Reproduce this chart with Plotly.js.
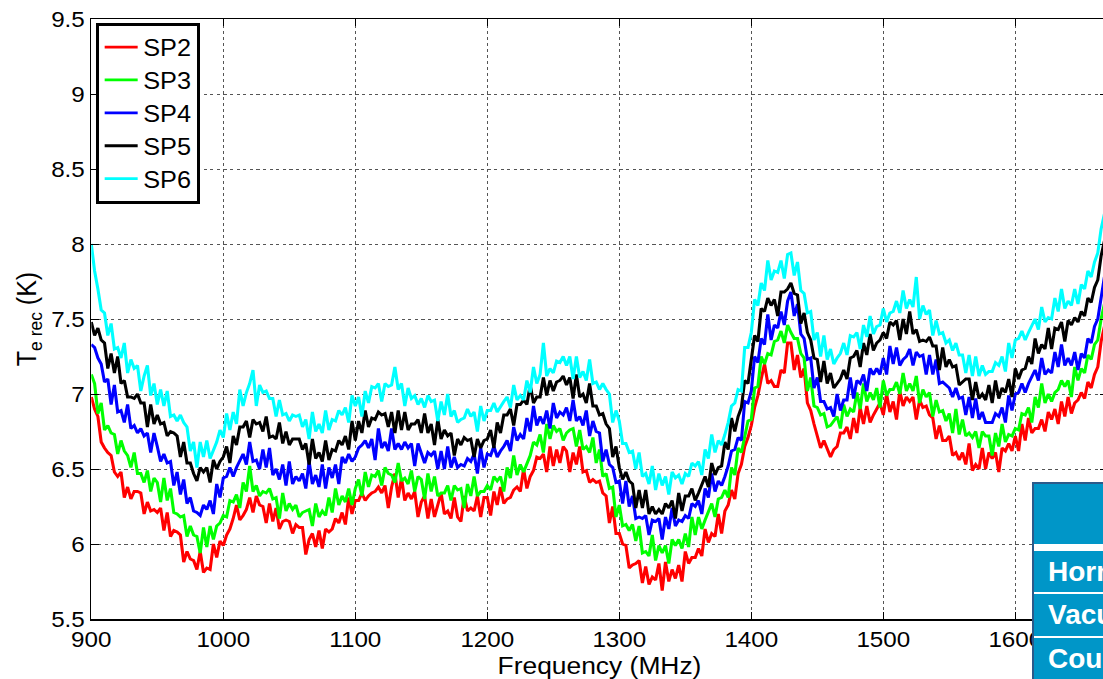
<!DOCTYPE html>
<html>
<head>
<meta charset="utf-8">
<script src="https://cdn.plot.ly/plotly-3.0.1.min.js"></script>
<style>
  html, body { margin: 0; padding: 0; width: 1103px; height: 679px; overflow: hidden; background: #fff; }
  #chart { position: absolute; left: 0; top: 0; transform: scaleX(1.1); transform-origin: 0 0; }
  #spec { position: absolute; left: 1032px; top: 482px; width: 220px; height: 240px;
          background: #0096c8; border-left: 2px solid #2b5a8a; border-top: 2px solid #2b5a8a; }
  #spec .rule { position: absolute; left: 0; width: 100%; background: #fff; }
  #spec .cell { position: absolute; left: 14px; color: #fff; font: bold 28px "Liberation Sans", Arial, sans-serif;
                white-space: nowrap; }
</style>
</head>
<body>
<div id="chart"></div>
<div id="spec">
  <div class="rule" style="top:60px;height:7px"></div>
  <div class="rule" style="top:108px;height:2px"></div>
  <div class="rule" style="top:152px;height:2px"></div>
  <div class="cell" style="top:72px">Horn</div>
  <div class="cell" style="top:115px">Vacuum</div>
  <div class="cell" style="top:159px">Coupler</div>
</div>
<script>
// Receiver equivalent temperature per sub-panel, one sample every 2.5 MHz from 900 MHz
const FREQ_START = 900;
const FREQ_STEP = 2.5;

const sp2 = [
  6.98, 6.90, 6.85, 6.68, 6.64, 6.61, 6.59, 6.48, 6.45, 6.48, 6.31, 6.38, 6.30, 6.35, 6.35, 6.34, 6.20, 6.28, 6.22, 6.23,
  6.21, 6.24, 6.09, 6.21, 6.05, 6.09, 6.08, 6.06, 5.88, 5.95, 5.90, 5.89, 5.83, 5.95, 5.81, 5.84, 5.83, 6.00, 5.91, 6.02,
  5.99, 6.06, 6.10, 6.17, 6.26, 6.16, 6.19, 6.23, 6.31, 6.21, 6.32, 6.26, 6.25, 6.14, 6.27, 6.15, 6.24, 6.10, 6.15, 6.16,
  6.15, 6.07, 6.13, 6.11, 6.11, 5.93, 6.03, 6.07, 5.98, 6.09, 5.97, 6.10, 6.08, 6.10, 6.17, 6.14, 6.21, 6.13, 6.31, 6.20,
  6.29, 6.29, 6.34, 6.29, 6.32, 6.34, 6.35, 6.38, 6.34, 6.39, 6.24, 6.38, 6.47, 6.31, 6.44, 6.29, 6.34, 6.30, 6.35, 6.18,
  6.28, 6.32, 6.17, 6.30, 6.18, 6.26, 6.34, 6.20, 6.22, 6.17, 6.31, 6.18, 6.15, 6.32, 6.22, 6.24, 6.22, 6.32, 6.18, 6.31,
  6.31, 6.19, 6.35, 6.26, 6.38, 6.27, 6.30, 6.31, 6.36, 6.38, 6.35, 6.50, 6.37, 6.45, 6.49, 6.58, 6.57, 6.60, 6.48, 6.65,
  6.52, 6.63, 6.54, 6.65, 6.62, 6.48, 6.61, 6.53, 6.65, 6.48, 6.49, 6.41, 6.43, 6.41, 6.42, 6.34, 6.32, 6.14, 6.25, 6.07,
  6.07, 6.00, 5.99, 5.84, 5.86, 5.87, 5.89, 5.74, 5.85, 5.73, 5.78, 5.76, 5.87, 5.69, 5.88, 5.75, 5.83, 5.77, 5.86, 5.75,
  5.95, 5.87, 5.91, 5.91, 5.97, 5.92, 6.10, 6.01, 6.07, 6.05, 6.20, 6.07, 6.22, 6.26, 6.36, 6.30, 6.47, 6.53, 6.65, 6.71,
  6.79, 6.91, 6.99, 7.10, 7.20, 7.07, 7.09, 7.05, 7.05, 7.16, 7.14, 7.34, 7.34, 7.16, 7.26, 7.11, 7.17, 6.94, 6.89, 6.80,
  6.71, 6.64, 6.69, 6.64, 6.58, 6.63, 6.65, 6.74, 6.74, 6.78, 6.70, 6.84, 6.74, 6.91, 6.80, 6.92, 6.81, 6.86, 6.90, 6.94,
  6.86, 7.00, 6.88, 6.95, 6.83, 7.02, 6.92, 6.98, 6.95, 6.98, 6.83, 6.96, 6.91, 6.92, 6.86, 6.84, 6.70, 6.79, 6.69, 6.69,
  6.72, 6.59, 6.61, 6.56, 6.61, 6.53, 6.67, 6.49, 6.53, 6.50, 6.64, 6.50, 6.61, 6.57, 6.61, 6.48, 6.64, 6.62, 6.67, 6.62,
  6.72, 6.62, 6.80, 6.69, 6.84, 6.74, 6.77, 6.77, 6.83, 6.75, 6.88, 6.83, 6.90, 6.80, 6.95, 6.85, 6.98, 6.87, 6.94, 6.96,
  7.01, 6.97, 7.08, 7.04, 7.13, 7.18, 7.35, 7.45
];

const sp3 = [
  7.13, 7.07, 6.87, 6.94, 6.76, 6.79, 6.74, 6.73, 6.60, 6.69, 6.62, 6.59, 6.51, 6.61, 6.47, 6.47, 6.41, 6.49, 6.35, 6.44,
  6.41, 6.28, 6.44, 6.29, 6.37, 6.21, 6.20, 6.18, 6.19, 6.05, 6.12, 6.06, 6.05, 5.94, 6.11, 5.98, 6.12, 6.03, 6.12, 6.14,
  6.19, 6.18, 6.29, 6.28, 6.33, 6.24, 6.41, 6.35, 6.52, 6.35, 6.39, 6.32, 6.35, 6.34, 6.37, 6.30, 6.31, 6.17, 6.34, 6.22,
  6.27, 6.23, 6.26, 6.18, 6.21, 6.22, 6.23, 6.12, 6.27, 6.18, 6.22, 6.19, 6.31, 6.21, 6.37, 6.26, 6.32, 6.28, 6.37, 6.26,
  6.37, 6.43, 6.32, 6.48, 6.38, 6.46, 6.45, 6.49, 6.39, 6.51, 6.47, 6.46, 6.41, 6.54, 6.42, 6.44, 6.40, 6.49, 6.35, 6.45,
  6.43, 6.30, 6.47, 6.35, 6.45, 6.32, 6.34, 6.34, 6.39, 6.29, 6.39, 6.36, 6.37, 6.24, 6.40, 6.32, 6.45, 6.32, 6.35, 6.35,
  6.39, 6.36, 6.45, 6.42, 6.45, 6.35, 6.51, 6.44, 6.59, 6.46, 6.53, 6.48, 6.54, 6.59, 6.68, 6.66, 6.73, 6.61, 6.80, 6.70,
  6.79, 6.75, 6.77, 6.69, 6.74, 6.76, 6.77, 6.65, 6.76, 6.63, 6.65, 6.61, 6.71, 6.54, 6.63, 6.45, 6.47, 6.37, 6.38, 6.18,
  6.26, 6.12, 6.13, 6.09, 6.13, 6.02, 6.12, 5.94, 5.95, 5.92, 6.06, 5.89, 5.99, 5.94, 5.99, 5.87, 6.03, 5.99, 6.03, 5.97,
  6.07, 5.98, 6.18, 6.06, 6.18, 6.10, 6.16, 6.21, 6.27, 6.18, 6.30, 6.31, 6.36, 6.31, 6.51, 6.46, 6.64, 6.61, 6.73, 6.82,
  6.83, 7.04, 7.05, 7.25, 7.20, 7.27, 7.26, 7.35, 7.36, 7.42, 7.34, 7.46, 7.41, 7.37, 7.37, 7.27, 7.24, 7.02, 7.11, 6.92,
  6.91, 6.86, 6.87, 6.78, 6.79, 6.82, 6.85, 6.77, 6.93, 6.85, 6.90, 6.88, 7.01, 6.90, 7.07, 6.95, 7.01, 6.96, 7.04, 6.91,
  7.09, 6.99, 7.03, 7.03, 7.08, 7.00, 7.14, 7.02, 7.07, 7.02, 7.12, 6.94, 7.03, 6.98, 7.01, 6.85, 6.96, 6.88, 6.89, 6.82,
  6.87, 6.74, 6.90, 6.73, 6.83, 6.72, 6.74, 6.71, 6.75, 6.64, 6.75, 6.72, 6.72, 6.59, 6.74, 6.65, 6.80, 6.68, 6.73, 6.72,
  6.77, 6.76, 6.87, 6.86, 6.91, 6.81, 6.98, 6.91, 7.07, 6.94, 7.00, 6.95, 7.01, 7.03, 7.09, 7.05, 7.09, 6.98, 7.18, 7.09,
  7.17, 7.14, 7.26, 7.23, 7.33, 7.36, 7.50, 7.60
];

const sp4 = [
  7.33, 7.31, 7.24, 7.20, 7.08, 7.10, 6.93, 7.06, 6.88, 6.89, 6.81, 6.93, 6.77, 6.79, 6.74, 6.77, 6.72, 6.74, 6.61, 6.74,
  6.65, 6.55, 6.60, 6.54, 6.55, 6.39, 6.48, 6.33, 6.43, 6.27, 6.31, 6.22, 6.21, 6.19, 6.26, 6.23, 6.29, 6.20, 6.40, 6.31,
  6.44, 6.45, 6.51, 6.45, 6.51, 6.55, 6.60, 6.53, 6.68, 6.55, 6.56, 6.50, 6.63, 6.51, 6.64, 6.46, 6.50, 6.43, 6.53, 6.39,
  6.55, 6.40, 6.45, 6.42, 6.47, 6.37, 6.55, 6.40, 6.46, 6.38, 6.53, 6.37, 6.51, 6.44, 6.53, 6.40, 6.58, 6.54, 6.60, 6.55,
  6.58, 6.64, 6.66, 6.69, 6.64, 6.70, 6.56, 6.77, 6.64, 6.68, 6.62, 6.77, 6.63, 6.67, 6.63, 6.68, 6.64, 6.67, 6.52, 6.67,
  6.61, 6.54, 6.61, 6.59, 6.62, 6.50, 6.62, 6.50, 6.65, 6.51, 6.58, 6.51, 6.53, 6.52, 6.57, 6.55, 6.60, 6.47, 6.64, 6.51,
  6.60, 6.59, 6.65, 6.58, 6.62, 6.65, 6.69, 6.62, 6.78, 6.69, 6.73, 6.70, 6.84, 6.75, 6.92, 6.79, 6.85, 6.80, 6.89, 6.77,
  6.94, 6.84, 6.88, 6.86, 6.91, 6.82, 6.96, 6.82, 6.85, 6.79, 6.89, 6.72, 6.82, 6.75, 6.74, 6.55, 6.63, 6.53, 6.51, 6.41,
  6.42, 6.27, 6.42, 6.25, 6.32, 6.17, 6.18, 6.17, 6.19, 6.06, 6.16, 6.15, 6.17, 6.03, 6.18, 6.10, 6.24, 6.12, 6.16, 6.15,
  6.19, 6.17, 6.27, 6.25, 6.29, 6.20, 6.37, 6.31, 6.47, 6.35, 6.42, 6.39, 6.45, 6.52, 6.62, 6.63, 6.71, 6.69, 6.95, 6.94,
  7.02, 7.25, 7.21, 7.37, 7.33, 7.53, 7.36, 7.46, 7.44, 7.55, 7.46, 7.62, 7.68, 7.52, 7.60, 7.40, 7.37, 7.23, 7.24, 7.04,
  7.11, 6.95, 6.95, 6.90, 6.91, 6.85, 7.00, 6.89, 6.96, 6.96, 7.11, 6.97, 7.09, 7.07, 7.13, 7.02, 7.17, 7.13, 7.17, 7.13,
  7.24, 7.13, 7.32, 7.20, 7.31, 7.19, 7.23, 7.25, 7.30, 7.19, 7.28, 7.25, 7.26, 7.13, 7.26, 7.13, 7.23, 7.07, 7.08, 7.06,
  7.04, 6.98, 7.04, 6.97, 6.98, 6.86, 6.98, 6.84, 6.97, 6.83, 6.88, 6.81, 6.81, 6.81, 6.87, 6.85, 6.91, 6.81, 6.99, 6.89,
  7.00, 7.01, 7.07, 7.01, 7.07, 7.11, 7.16, 7.09, 7.24, 7.13, 7.16, 7.14, 7.28, 7.18, 7.33, 7.19, 7.24, 7.19, 7.28, 7.16,
  7.27, 7.24, 7.37, 7.34, 7.45, 7.50, 7.66, 7.78
];

const sp5 = [
  7.48, 7.39, 7.44, 7.36, 7.34, 7.17, 7.27, 7.14, 7.25, 7.07, 7.09, 6.98, 6.98, 6.97, 7.00, 6.94, 6.94, 6.78, 6.93, 6.80,
  6.86, 6.80, 6.81, 6.72, 6.75, 6.74, 6.72, 6.58, 6.68, 6.54, 6.54, 6.47, 6.42, 6.51, 6.48, 6.51, 6.41, 6.56, 6.50, 6.55,
  6.58, 6.65, 6.54, 6.72, 6.66, 6.78, 6.78, 6.82, 6.71, 6.83, 6.80, 6.81, 6.75, 6.85, 6.71, 6.72, 6.70, 6.81, 6.67, 6.75,
  6.66, 6.70, 6.70, 6.70, 6.63, 6.67, 6.53, 6.70, 6.57, 6.61, 6.55, 6.69, 6.56, 6.63, 6.62, 6.69, 6.66, 6.72, 6.63, 6.82,
  6.69, 6.82, 6.74, 6.89, 6.78, 6.84, 6.83, 6.88, 6.86, 6.87, 6.78, 6.88, 6.74, 6.89, 6.76, 6.88, 6.76, 6.80, 6.80, 6.83,
  6.74, 6.87, 6.74, 6.80, 6.66, 6.83, 6.70, 6.76, 6.72, 6.74, 6.59, 6.70, 6.66, 6.71, 6.69, 6.70, 6.58, 6.70, 6.64, 6.69,
  6.70, 6.76, 6.64, 6.81, 6.74, 6.86, 6.86, 6.90, 6.79, 6.93, 6.93, 6.96, 6.93, 7.06, 6.94, 6.98, 6.98, 7.11, 6.99, 7.09,
  7.02, 7.08, 7.09, 7.12, 7.06, 7.11, 6.97, 7.13, 6.98, 7.00, 6.94, 7.07, 6.92, 6.92, 6.86, 6.87, 6.80, 6.77, 6.58, 6.65,
  6.51, 6.43, 6.48, 6.42, 6.40, 6.24, 6.36, 6.24, 6.36, 6.20, 6.25, 6.20, 6.23, 6.20, 6.27, 6.24, 6.29, 6.17, 6.34, 6.22,
  6.32, 6.32, 6.37, 6.29, 6.34, 6.39, 6.45, 6.38, 6.54, 6.46, 6.51, 6.52, 6.68, 6.63, 6.84, 6.75, 6.85, 6.91, 7.09, 7.07,
  7.24, 7.39, 7.35, 7.57, 7.55, 7.64, 7.59, 7.63, 7.52, 7.68, 7.68, 7.70, 7.74, 7.67, 7.66, 7.47, 7.54, 7.41, 7.36, 7.24,
  7.23, 7.08, 7.22, 7.07, 7.14, 7.04, 7.07, 7.10, 7.16, 7.10, 7.24, 7.25, 7.29, 7.18, 7.34, 7.26, 7.40, 7.29, 7.34, 7.36,
  7.41, 7.37, 7.48, 7.46, 7.49, 7.36, 7.50, 7.40, 7.55, 7.40, 7.43, 7.35, 7.36, 7.35, 7.38, 7.32, 7.32, 7.16, 7.31, 7.18,
  7.23, 7.18, 7.19, 7.06, 7.08, 7.10, 7.10, 6.96, 7.08, 6.97, 7.00, 6.96, 7.06, 6.94, 7.09, 6.97, 7.04, 7.01, 7.10, 6.98,
  7.17, 7.10, 7.16, 7.17, 7.25, 7.20, 7.37, 7.27, 7.33, 7.30, 7.44, 7.30, 7.44, 7.43, 7.48, 7.35, 7.49, 7.46, 7.51, 7.48,
  7.55, 7.52, 7.64, 7.61, 7.71, 7.76, 7.92, 8.02
];

const sp6 = [
  8.00, 7.82, 7.70, 7.56, 7.54, 7.39, 7.47, 7.30, 7.31, 7.24, 7.34, 7.14, 7.23, 7.17, 7.19, 7.02, 7.12, 7.19, 6.99, 7.07,
  6.93, 7.03, 6.92, 7.02, 6.85, 6.86, 6.82, 6.86, 6.81, 6.78, 6.62, 6.68, 6.51, 6.68, 6.58, 6.69, 6.57, 6.63, 6.68, 6.76,
  6.71, 6.87, 6.76, 6.88, 6.80, 7.03, 6.92, 7.01, 7.07, 7.16, 6.92, 7.06, 7.01, 7.02, 6.97, 6.97, 6.85, 6.96, 6.86, 6.87,
  6.82, 6.86, 6.85, 6.86, 6.78, 6.83, 6.70, 6.88, 6.75, 6.80, 6.74, 6.89, 6.76, 6.83, 6.82, 6.89, 6.86, 6.91, 6.81, 6.99,
  6.92, 6.98, 6.85, 7.02, 6.94, 7.05, 7.04, 7.07, 6.95, 7.07, 7.05, 7.06, 7.18, 7.03, 7.07, 6.92, 7.04, 6.97, 6.99, 6.93,
  6.97, 6.91, 6.99, 6.95, 6.96, 6.82, 6.95, 6.86, 7.00, 6.85, 6.89, 6.81, 6.83, 6.84, 6.90, 6.85, 6.88, 6.75, 6.92, 6.82,
  6.89, 6.89, 6.94, 6.88, 6.92, 6.95, 6.98, 6.91, 7.06, 6.96, 6.99, 6.96, 7.09, 7.01, 7.18, 7.07, 7.13, 7.34, 7.12, 7.17,
  7.14, 7.22, 7.21, 7.25, 7.19, 7.25, 7.10, 7.25, 7.11, 7.15, 7.09, 7.23, 7.07, 7.08, 7.03, 7.07, 7.03, 7.00, 6.81, 6.89,
  6.82, 6.67, 6.67, 6.61, 6.62, 6.50, 6.61, 6.45, 6.47, 6.40, 6.52, 6.36, 6.47, 6.39, 6.45, 6.33, 6.48, 6.44, 6.46, 6.40,
  6.47, 6.45, 6.54, 6.52, 6.55, 6.46, 6.63, 6.57, 6.73, 6.61, 6.69, 6.66, 6.73, 6.81, 6.92, 6.94, 7.03, 7.02, 7.31, 7.31,
  7.41, 7.63, 7.59, 7.74, 7.69, 7.89, 7.76, 7.82, 7.81, 7.89, 7.77, 7.93, 7.94, 7.79, 7.88, 7.69, 7.67, 7.54, 7.55, 7.36,
  7.41, 7.25, 7.39, 7.23, 7.30, 7.20, 7.24, 7.27, 7.34, 7.26, 7.39, 7.38, 7.41, 7.30, 7.46, 7.38, 7.52, 7.40, 7.45, 7.46,
  7.57, 7.48, 7.54, 7.55, 7.62, 7.54, 7.69, 7.57, 7.63, 7.58, 7.78, 7.50, 7.59, 7.53, 7.56, 7.39, 7.49, 7.40, 7.41, 7.34,
  7.36, 7.29, 7.34, 7.26, 7.26, 7.14, 7.26, 7.12, 7.25, 7.12, 7.19, 7.13, 7.15, 7.15, 7.21, 7.19, 7.25, 7.15, 7.34, 7.24,
  7.36, 7.37, 7.42, 7.36, 7.41, 7.45, 7.50, 7.43, 7.58, 7.48, 7.51, 7.50, 7.64, 7.55, 7.70, 7.57, 7.62, 7.59, 7.70, 7.60,
  7.73, 7.70, 7.82, 7.78, 7.88, 7.94, 8.10, 8.20
];

const seriesNames = ['SP2', 'SP3', 'SP4', 'SP5', 'SP6'];
const seriesValues = [sp2, sp3, sp4, sp5, sp6];
const seriesColors = ['#ff0000', '#00ff00', '#0000ff', '#000000', '#00ffff'];

const traces = seriesNames.map((name, i) => ({
  type: 'scatter',
  mode: 'lines',
  name: name,
  x0: FREQ_START,
  dx: FREQ_STEP,
  y: seriesValues[i],
  line: { color: seriesColors[i], width: 2.8 }
}));

const axisStyle = {
  showline: true,
  linecolor: '#000',
  linewidth: 1.5,
  mirror: 'ticks',
  ticks: 'inside',
  ticklen: 7,
  tickcolor: '#000',
  tickwidth: 1,
  showgrid: true,
  gridcolor: '#555',
  griddash: 'dot',
  gridwidth: 1,
  zeroline: false,
  automargin: false
};

const layout = {
  width: 1055,
  height: 679,
  margin: { l: 83, r: 48, t: 19, b: 60, pad: 0 },
  paper_bgcolor: '#fff',
  plot_bgcolor: '#fff',
  font: { family: '"Liberation Sans", Arial, sans-serif', size: 22, color: '#000' },
  showlegend: true,
  xaxis: Object.assign({}, axisStyle, {
    range: [900, 1670],
    tick0: 900,
    dtick: 100,
    title: { text: 'Frequency (MHz)', standoff: 2, font: { size: 24 } }
  }),
  yaxis: Object.assign({}, axisStyle, {
    range: [5.5, 9.5],
    tick0: 5.5,
    dtick: 0.5,
    title: { text: 'T<sub>e rec</sub> (K)', standoff: 6, font: { size: 25 } }
  }),
  legend: {
    x: 0.0045, y: 0.994, xanchor: 'left', yanchor: 'top',
    bgcolor: '#fff', bordercolor: '#000', borderwidth: 3,
    font: { size: 23 }, itemwidth: 30
  }
};

Plotly.newPlot('chart', traces, layout, { displayModeBar: false, staticPlot: true });
</script>
</body>
</html>
